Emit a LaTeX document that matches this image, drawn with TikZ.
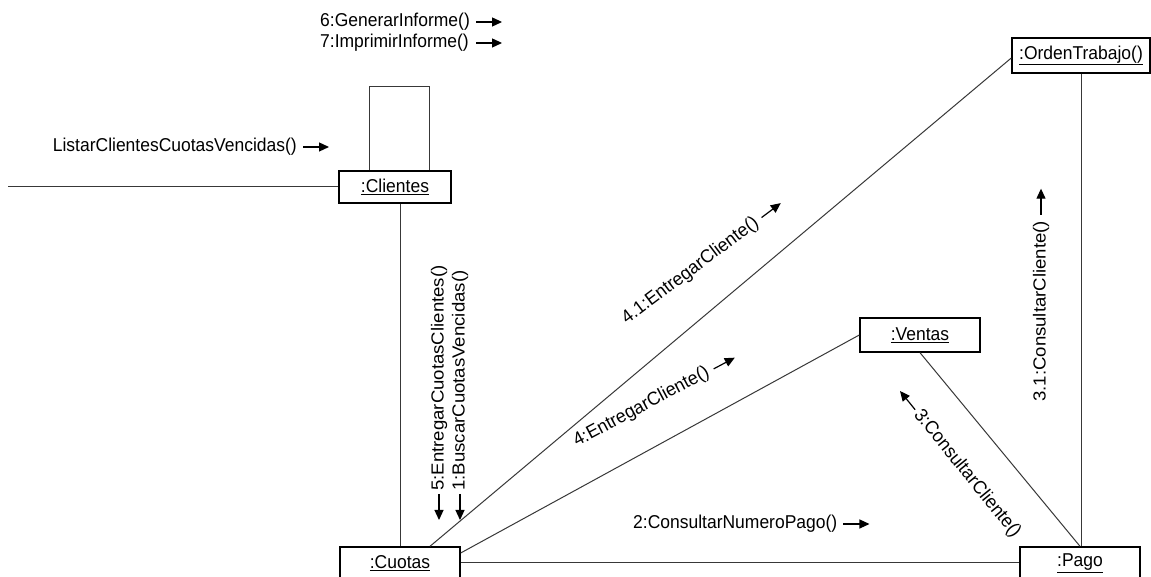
\documentclass[tikz,border=0pt]{standalone}
\usepackage{fontspec}
\setmainfont{Liberation Sans}[FakeStretch=0.94]
\newfontfamily\plainfont{Liberation Sans}
\newfontfamily\diagfont{Liberation Sans}[FakeStretch=0.96]
\usetikzlibrary{arrows.meta}
% vertical labels: narrower glyphs, full length
\newcommand{\vtext}[1]{\scalebox{1}[0.94]{#1}}
\begin{document}
\begin{tikzpicture}[x=1pt,y=1pt,
  txt/.style={font=\fontsize{18.6}{21}\selectfont},
  obj/.style={txt, draw=black, line width=1.4pt, fill=white, inner sep=0pt, minimum height=32pt},
  lnk/.style={draw=black!78, line width=1pt},
  lbl/.style={txt, inner sep=0pt},
  vlbl/.style={lbl, font=\plainfont\fontsize{18.6}{21}\selectfont, rotate=90, anchor=west},
  dlbl/.style={lbl, font=\diagfont\fontsize{18.6}{21}\selectfont},
  msg/.style={draw=black, line width=1.2pt, -{Triangle[length=10pt,width=9pt]}}
]
\clip (0,0) rectangle (1151,577);
\fill[white] (0,0) rectangle (1151,577);

% objects
\node[obj, minimum width=112pt] (cli) at (395,390) {\underline{:Clientes}};
\node[obj, minimum width=120pt] (cuo) at (400,14) {\underline{:Cuotas}};
\node[obj, minimum width=120pt] (pag) at (1080,14) {\underline{:Pago}};
\node[obj, minimum width=120pt, minimum height=34pt] (ven) at (920,242) {\underline{:Ventas}};
\node[obj, minimum width=138pt, minimum height=35pt] (ot) at (1081,521.5) {\underline{:OrdenTrabajo()}};
\coordinate (ext) at (8,390);

% links
\draw[lnk] (ext) -- (cli.west);
\draw[lnk] ([xshift=-26]cli.north) -- ++(0,84) -| ([xshift=34]cli.north);
\draw[lnk] (cli.south -| cuo.north) -- (cuo.north);
\draw[lnk] ([xshift=30]cuo.north) -- ([yshift=-2.5]ot.west);
\draw[lnk] ([yshift=10]cuo.east) -- (ven.west);
\draw[lnk] (cuo.east) -- (pag.west);
\draw[lnk] (ven.south) -- (pag.north);
\draw[lnk] (ot.south) -- (ot.south |- pag.north);

% messages
\node[lbl, anchor=west] (m6) at (320,555) {6:GenerarInforme()};
\draw[msg] ([xshift=6]m6.east) -- ++(26,0);
\node[lbl, anchor=west] (m7) at (320,534) {7:ImprimirInforme()};
\draw[msg] (m7.east -| m6.east) ++(6,0) -- ++(26,0);

\node[lbl, anchor=east] (m0) at (297,430) {ListarClientesCuotasVencidas()};
\draw[msg] ([xshift=6]m0.east) -- ++(26,0);

\node[lbl, anchor=west] (m2) at (633,53) {2:ConsultarNumeroPago()};
\draw[msg] ([xshift=6]m2.east) -- ++(26,0);

\node[vlbl] (m5) at (439,86) {\vtext{5:EntregarCuotasClientes()}};
\draw[msg] ([yshift=-3]m5.west) -- ++(0,-26);
\node[vlbl] (m1) at (460,86) {\vtext{1:BuscarCuotasVencidas()}};
\draw[msg] ([yshift=-3]m1.west) -- ++(0,-26);

\node[vlbl] (m31) at (1041,175) {\vtext{3.1:ConsultarCliente()}};
\draw[msg] ([yshift=6]m31.east) -- ++(0,26);

\node[dlbl, rotate=37, anchor=base west] (m41) at (627,252) {4.1:EntregarCliente()};
\draw[msg] ([shift={(37:6)}]m41.east) -- ++(37:24);

\node[dlbl, rotate=28, anchor=base west] (m4) at (577,130) {4:EntregarCliente()};
\draw[msg] ([shift={(28:6)}]m4.east) -- ++(28:24);

\node[dlbl, rotate=-51, anchor=west] (m3) at (917,165) {3:ConsultarCliente()};
\draw[msg] ([shift={(129:3)}]m3.west) -- ++(129:24);
\end{tikzpicture}
\end{document}
